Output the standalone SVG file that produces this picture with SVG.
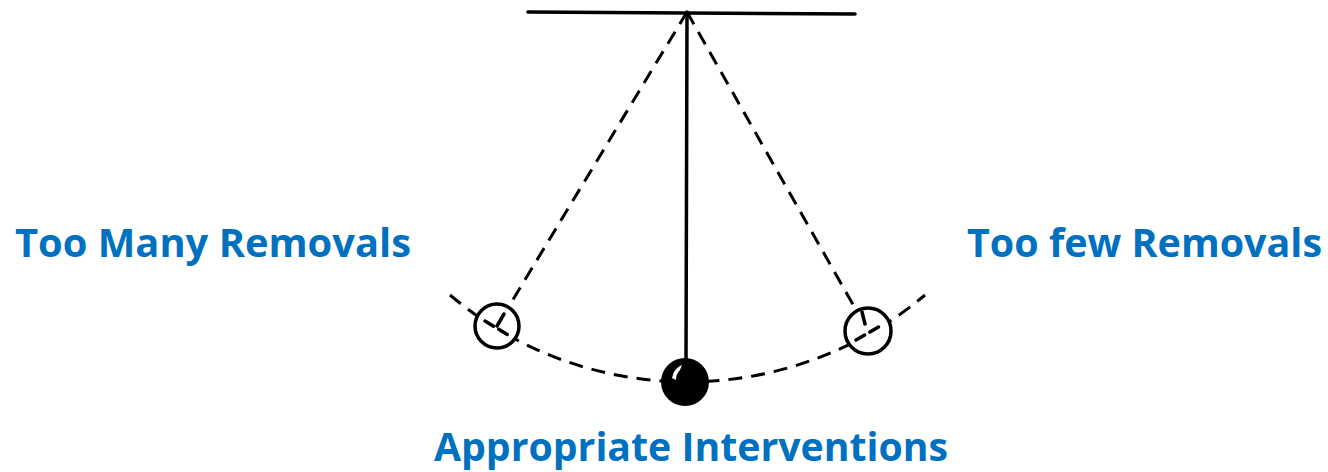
<svg xmlns="http://www.w3.org/2000/svg" width="1328" height="472" viewBox="0 0 1328 472">
<style>
.solid{stroke:#000;stroke-width:3.5;fill:none;stroke-linecap:round}
.dash{stroke:#000;stroke-width:3;fill:none;stroke-dasharray:14 9}
.bob{fill:#fff;stroke:#000;stroke-width:3.5}
.lbl{font-family:"Open Sans","Liberation Sans",sans-serif;font-weight:700;font-size:40px;fill:#0070c0}
</style>
<rect width="1328" height="472" fill="#fff"/>
<g id="connectors">
<line class="solid" x1="528" y1="12" x2="855" y2="14"/>
<line class="solid" x1="687" y1="12" x2="686" y2="362"/>
<line class="dash" x1="687" y1="12" x2="497" y2="326"/>
<line class="dash" x1="687" y1="12" x2="868" y2="331"/>
<path class="dash" d="M450,295 A368,368 0 0 0 925,295"/>
</g>
<g id="bob-left"><circle class="bob" cx="497" cy="326" r="22"/>
<line class="solid" x1="504" y1="314" x2="497" y2="326" stroke-width="3"/>
<line class="solid" x1="485" y1="321" x2="510" y2="336" stroke-width="3" stroke-dasharray="10 6"/></g>
<g id="bob-right"><circle class="bob" cx="868" cy="331" r="23"/>
<line class="solid" x1="862" y1="312" x2="865" y2="324" stroke-width="3"/>
<line class="solid" x1="856" y1="340" x2="882" y2="325" stroke-width="3" stroke-dasharray="10 6"/></g>
<g id="bob-center"><circle cx="685" cy="382" r="24" fill="#000"/>
<path d="M672,378 Q674,368 682,365 L680,370 Q676,374 676,380 Z" fill="#fff"/></g>
<g id="label-left"><text class="lbl" x="15" y="257" textLength="396" lengthAdjust="spacingAndGlyphs">Too Many Removals</text></g>
<g id="label-right"><text class="lbl" x="967" y="257" textLength="355" lengthAdjust="spacingAndGlyphs">Too few Removals</text></g>
<g id="label-bottom"><text class="lbl" x="434" y="461" textLength="514" lengthAdjust="spacingAndGlyphs">Appropriate Interventions</text></g>
</svg>
